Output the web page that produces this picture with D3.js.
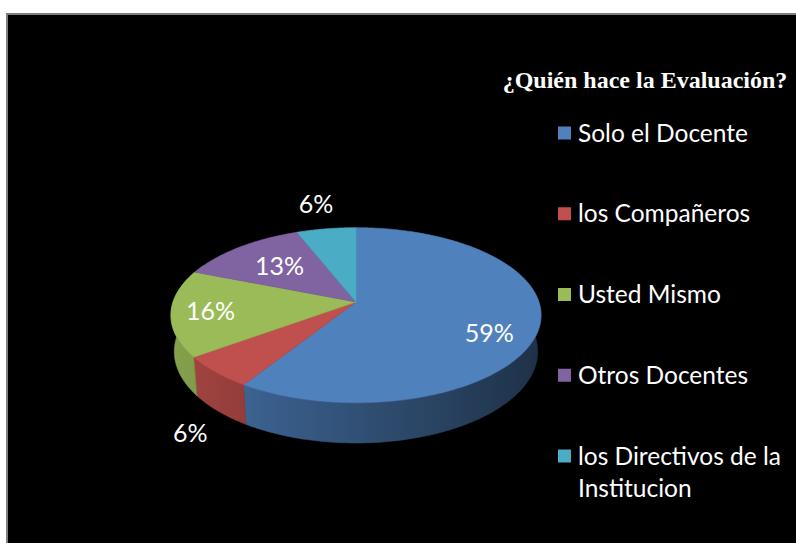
<!DOCTYPE html>
<html>
<head>
<meta charset="utf-8">
<script src="https://cdn.jsdelivr.net/npm/d3@7"></script>
<style>
  html, body { margin: 0; padding: 0; background: #ffffff; }
  svg { display: block; }
</style>
</head>
<body>
<svg id="chart" width="796" height="543"></svg>
<script>
// ---- data ----
const title = "¿Quién hace la Evaluación?";
const categories = ["Solo el Docente", "los Compañeros", "Usted Mismo", "Otros Docentes", "los Directivos de la Institucion"];
const values = [59, 6, 16, 13, 6];
const valueLabels = ["59%", "6%", "16%", "13%", "6%"];
const colors = ["#4f81bd", "#c0504d", "#9bbb59", "#8064a2", "#4bacc6"];

// ---- layout ----
const W = 796, H = 543;
const svg = d3.select("#chart");
const defs = svg.append("defs");

// frame
svg.append("rect").attr("x", 6).attr("y", 13).attr("width", W).attr("height", H).attr("fill", "#7f7f7f");
svg.append("rect").attr("x", 8).attr("y", 15).attr("width", W).attr("height", H).attr("fill", "#000000");

// 3D perspective projection of the pie disk
const cx = 356, cy = 302;
const C = 0.884, S = 0.4676, D = 5.86, K = 1072, THICK = 0.227;
function proj(theta, r, h) {
  const x = r * Math.sin(theta), z = -r * Math.cos(theta);
  const depth = D + h * S - z * C;
  return [cx + K * x / depth, cy + K * (h * C + z * S) / depth];
}

const pie = d3.pie().sort(null).value(d => d);
const arcs = pie(values);

const line = d3.line();
function sample(a0, a1, r, h) {
  const n = Math.max(2, Math.ceil((a1 - a0) / 0.01));
  return d3.range(n + 1).map(i => proj(a0 + (a1 - a0) * i / n, r, h));
}

// gradients for side walls
const xLeft = proj(-Math.PI / 2, 1, 0)[0], xRight = proj(Math.PI / 2, 1, 0)[0];
const shade = d3.scaleLinear().domain([0, 1]).range([0.86, 0.38]);
colors.forEach((c, i) => {
  const g = defs.append("linearGradient").attr("id", "wall" + i)
    .attr("gradientUnits", "userSpaceOnUse")
    .attr("x1", xLeft).attr("x2", xRight).attr("y1", 0).attr("y2", 0);
  d3.range(0, 1.0001, 0.25).forEach(t => {
    const col = d3.rgb(c);
    const f = shade(t);
    g.append("stop").attr("offset", t)
      .attr("stop-color", d3.rgb(col.r * f, col.g * f, col.b * f).formatHex());
  });
});

// walls (only visible front half needed; back is hidden by top face)
const wallG = svg.append("g");
arcs.forEach((a, i) => {
  const a0 = Math.max(a.startAngle, Math.PI * 0.35);
  const a1 = Math.min(a.endAngle, Math.PI * 1.65);
  if (a1 <= a0) return;
  const top = sample(a0, a1, 1, 0);
  const bot = sample(a0, a1, 1, THICK).reverse();
  wallG.append("path").attr("d", line(top.concat(bot)) + "Z")
    .attr("fill", `url(#wall${i})`).attr("stroke", `url(#wall${i})`).attr("stroke-width", 0.6);
});

// top faces
const topG = svg.append("g");
arcs.forEach((a, i) => {
  const pts = [proj(0, 0, 0)].concat(sample(a.startAngle, a.endAngle, 1, 0));
  topG.append("path").attr("d", line(pts) + "Z")
    .attr("fill", colors[i]).attr("stroke", colors[i]).attr("stroke-width", 0.6)
    .attr("stroke-linejoin", "round");
});

// data labels (radius on disk, height below the top face)
const labelPos = [{r: 0.74, h: 0.08}, {r: 1.18, h: 0.27}, {r: 0.79, h: 0}, {r: 0.63, h: 0}, {r: 1.41, h: 0}];
svg.append("g").selectAll("text").data(arcs).join("text")
  .attr("x", (a, i) => proj((a.startAngle + a.endAngle) / 2, labelPos[i].r, labelPos[i].h)[0])
  .attr("y", (a, i) => proj((a.startAngle + a.endAngle) / 2, labelPos[i].r, labelPos[i].h)[1])
  .attr("dy", "0.36em")
  .attr("text-anchor", "middle")
  .attr("font-family", "Lato, 'Open Sans', sans-serif")
  .attr("font-size", 25)
  .attr("fill", "#ffffff")
  .text((a, i) => valueLabels[i]);

// title
svg.append("text")
  .attr("x", 645).attr("y", 88)
  .attr("text-anchor", "middle")
  .attr("font-family", "'Liberation Serif', 'Times New Roman', serif")
  .attr("font-weight", "bold")
  .attr("font-size", 24)
  .attr("fill", "#ffffff")
  .text(title);

// legend
const legendY = d3.scalePoint().domain(d3.range(categories.length)).range([133, 456]);
const lg = svg.append("g").selectAll("g").data(categories).join("g")
  .attr("transform", (d, i) => `translate(558,${legendY(i)})`);
lg.append("rect").attr("x", 0).attr("y", -6.5).attr("width", 13).attr("height", 13)
  .attr("fill", (d, i) => colors[i]);
const lt = lg.append("text")
  .attr("x", 20).attr("y", 8.5)
  .attr("font-family", "Lato, 'Open Sans', sans-serif")
  .attr("font-size", 24.5)
  .attr("fill", "#ffffff");
lt.each(function(d) {
  const t = d3.select(this);
  if (d === "los Directivos de la Institucion") {
    t.append("tspan").attr("x", 20).attr("dy", 0).text("los Directivos de la");
    t.append("tspan").attr("x", 20).attr("dy", 32).text("Institucion");
  } else {
    t.text(d);
  }
});
</script>
</body>
</html>
